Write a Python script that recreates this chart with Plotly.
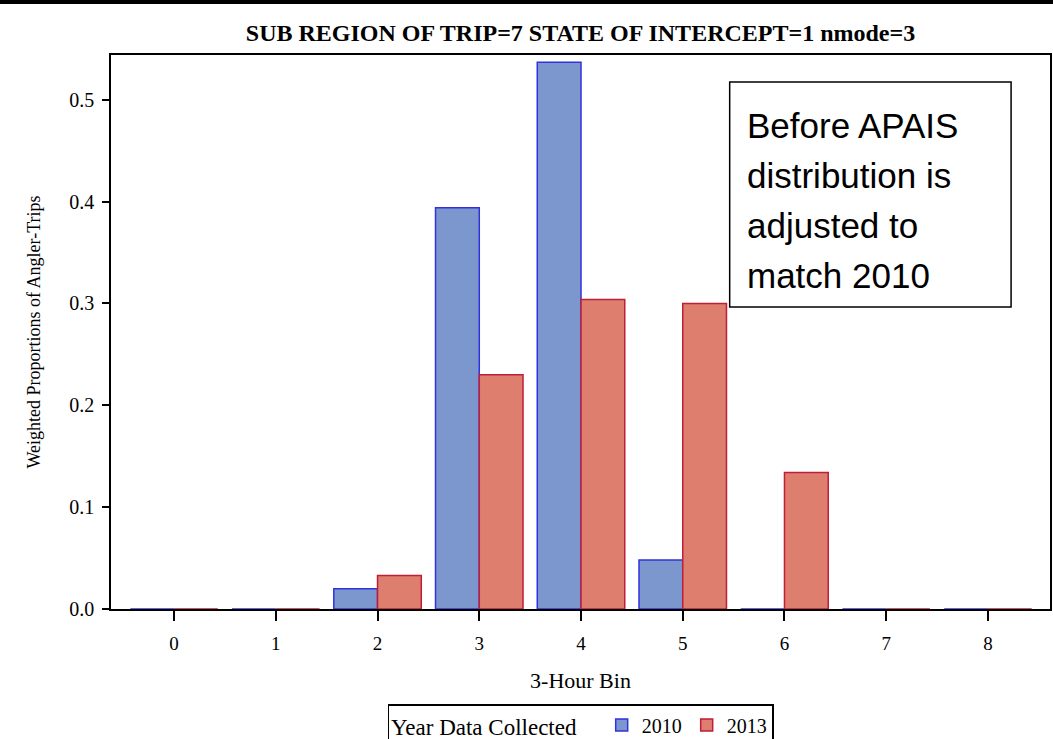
import plotly.graph_objects as go

# Dados
bins = [0, 1, 2, 3, 4, 5, 6, 7, 8]
prop_2010 = [0.0, 0.0, 0.020, 0.394, 0.537, 0.048, 0.0, 0.0, 0.0]
prop_2013 = [0.0, 0.0, 0.033, 0.230, 0.304, 0.300, 0.134, 0.0, 0.0]
note_lines = ["Before APAIS", "distribution is", "adjusted to", "match 2010"]

serif = "Liberation Serif, Times New Roman, serif"

fig = go.Figure()
fig.add_trace(go.Bar(
    x=bins, y=prop_2010, name="2010",
    marker=dict(color="rgb(124,151,206)", line=dict(color="rgb(50,50,220)", width=1.5)),
))
fig.add_trace(go.Bar(
    x=bins, y=prop_2013, name="2013",
    marker=dict(color="rgb(222,126,111)", line=dict(color="rgb(190,30,55)", width=1.5)),
))

fig.update_layout(
    width=1053, height=739,
    margin=dict(l=111, r=1, t=55, b=130),
    barmode="group", bargap=0.14, bargroupgap=0,
    plot_bgcolor="white", paper_bgcolor="white",
    font=dict(family=serif, size=19, color="black"),
    title=dict(
        text="<b>SUB REGION OF TRIP=7 STATE OF INTERCEPT=1 nmode=3</b>",
        x=0.5, xref="paper", y=1 - 33 / 739, yanchor="middle",
        font=dict(family=serif, size=24, color="black"),
    ),
    xaxis=dict(
        range=[-0.62, 8.61], tickvals=bins, ticks="outside", ticklen=10,
        tickcolor="black", tickwidth=1.5, showline=True, linecolor="black", linewidth=1.5,
        mirror=True, showgrid=False, zeroline=False, ticklabelstandoff=6,
        title=dict(text="3-Hour Bin", font=dict(size=22), standoff=20),
        tickfont=dict(size=19),
    ),
    yaxis=dict(
        range=[0, 0.544], tickvals=[0, 0.1, 0.2, 0.3, 0.4, 0.5],
        ticktext=["0.0", "0.1", "0.2", "0.3", "0.4", "0.5"],
        ticks="outside", ticklen=7, tickcolor="black", tickwidth=1.5,
        showline=True, linecolor="black", linewidth=1.5, mirror=True,
        showgrid=False, zeroline=False, ticklabelstandoff=4,
        title=dict(text="Weighted Proportions of Angler-Trips", font=dict(size=18), standoff=24),
        tickfont=dict(size=20),
    ),
    legend=dict(
        orientation="h", x=0.5, xanchor="center",
        yref="container", y=(739 - 704) / 739, yanchor="top",
        title=dict(text="Year Data Collected   ", font=dict(size=23)),
        font=dict(size=20), bordercolor="black", borderwidth=1.5,
        bgcolor="white", itemwidth=30, traceorder="normal",
    ),
    showlegend=True,
)

# Linha preta no topo da imagem
fig.add_shape(type="line", xref="paper", yref="paper",
              x0=-0.2, x1=1.01, y0=1 + 53 / 554, y1=1 + 53 / 554,
              line=dict(color="black", width=4))

# Caixa de anotação
px_x = lambda px: (px - 111) / (1052 - 111)
px_y = lambda py: (609 - py) / (609 - 55)
fig.add_shape(type="rect", xref="paper", yref="paper",
              x0=px_x(731), x1=px_x(1013), y0=px_y(307), y1=px_y(82),
              line=dict(color="black", width=1.5), fillcolor="white")
for i, line in enumerate(note_lines):
    fig.add_annotation(
        text=line, xref="paper", yref="paper",
        x=px_x(746), xanchor="left", y=px_y(125 + i * 50), yanchor="middle",
        showarrow=False,
        font=dict(family="Liberation Sans, Arial, sans-serif", size=35, color="black"),
    )

fig.write_html("out.html", config={"displayModeBar": False},
               post_script="document.body.style.margin='0';")
